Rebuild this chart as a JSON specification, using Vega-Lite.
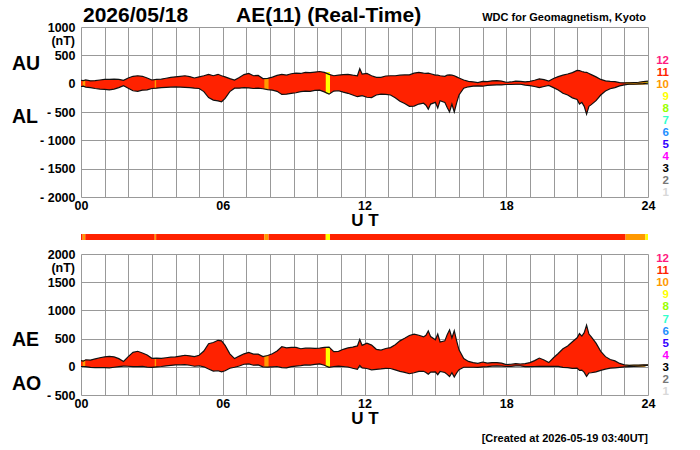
{
  "$schema": "https://vega.github.io/schema/vega-lite/v6.json",
  "background": "white",
  "padding": {"left": 12, "top": 5, "right": 5, "bottom": 5},
  "datasets": {
    "ae": [
      {"t": 0, "AU": 60, "AL": -50, "AE": 110, "AO": 5},
      {"t": 0.1, "AU": 55, "AL": -45, "AE": 100, "AO": 5},
      {"t": 0.2, "AU": 65, "AL": -60, "AE": 125, "AO": 3},
      {"t": 0.4, "AU": 50, "AL": -70, "AE": 120, "AO": -10},
      {"t": 0.6, "AU": 55, "AL": -85, "AE": 140, "AO": -15},
      {"t": 0.8, "AU": 65, "AL": -95, "AE": 160, "AO": -15},
      {"t": 1.0, "AU": 75, "AL": -100, "AE": 175, "AO": -13},
      {"t": 1.2, "AU": 75, "AL": -110, "AE": 185, "AO": -18},
      {"t": 1.4, "AU": 80, "AL": -95, "AE": 175, "AO": -8},
      {"t": 1.6, "AU": 75, "AL": -70, "AE": 145, "AO": 3},
      {"t": 1.8, "AU": 60, "AL": -35, "AE": 95, "AO": 13},
      {"t": 2.0, "AU": 100, "AL": -80, "AE": 180, "AO": 10},
      {"t": 2.2, "AU": 130, "AL": -125, "AE": 255, "AO": 3},
      {"t": 2.4, "AU": 140, "AL": -135, "AE": 275, "AO": 3},
      {"t": 2.6, "AU": 130, "AL": -115, "AE": 245, "AO": 8},
      {"t": 2.8, "AU": 100, "AL": -110, "AE": 210, "AO": -5},
      {"t": 3.0, "AU": 65, "AL": -85, "AE": 150, "AO": -10},
      {"t": 3.2, "AU": 75, "AL": -80, "AE": 155, "AO": -3},
      {"t": 3.4, "AU": 80, "AL": -70, "AE": 150, "AO": 5},
      {"t": 3.6, "AU": 95, "AL": -65, "AE": 160, "AO": 15},
      {"t": 3.8, "AU": 110, "AL": -60, "AE": 170, "AO": 25},
      {"t": 4.0, "AU": 120, "AL": -55, "AE": 175, "AO": 33},
      {"t": 4.2, "AU": 130, "AL": -60, "AE": 190, "AO": 35},
      {"t": 4.4, "AU": 140, "AL": -65, "AE": 205, "AO": 38},
      {"t": 4.6, "AU": 125, "AL": -70, "AE": 195, "AO": 28},
      {"t": 4.8, "AU": 100, "AL": -80, "AE": 180, "AO": 10},
      {"t": 5.0, "AU": 120, "AL": -85, "AE": 205, "AO": 18},
      {"t": 5.2, "AU": 140, "AL": -140, "AE": 280, "AO": 0},
      {"t": 5.4, "AU": 165, "AL": -245, "AE": 410, "AO": -40},
      {"t": 5.6, "AU": 140, "AL": -290, "AE": 430, "AO": -75},
      {"t": 5.8, "AU": 165, "AL": -305, "AE": 470, "AO": -70},
      {"t": 5.95, "AU": 140, "AL": -320, "AE": 460, "AO": -90},
      {"t": 6.1, "AU": 120, "AL": -260, "AE": 380, "AO": -70},
      {"t": 6.3, "AU": 90, "AL": -140, "AE": 230, "AO": -25},
      {"t": 6.5, "AU": 65, "AL": -80, "AE": 145, "AO": -8},
      {"t": 6.7, "AU": 110, "AL": -80, "AE": 190, "AO": 15},
      {"t": 6.9, "AU": 160, "AL": -70, "AE": 230, "AO": 45},
      {"t": 7.1, "AU": 180, "AL": -75, "AE": 255, "AO": 53},
      {"t": 7.3, "AU": 140, "AL": -85, "AE": 225, "AO": 28},
      {"t": 7.5, "AU": 145, "AL": -80, "AE": 225, "AO": 33},
      {"t": 7.7, "AU": 90, "AL": -90, "AE": 180, "AO": 0},
      {"t": 7.9, "AU": 95, "AL": -105, "AE": 200, "AO": -5},
      {"t": 8.1, "AU": 115, "AL": -115, "AE": 230, "AO": 0},
      {"t": 8.3, "AU": 145, "AL": -135, "AE": 280, "AO": 5},
      {"t": 8.5, "AU": 165, "AL": -190, "AE": 355, "AO": -13},
      {"t": 8.7, "AU": 150, "AL": -185, "AE": 335, "AO": -18},
      {"t": 8.9, "AU": 175, "AL": -170, "AE": 345, "AO": 3},
      {"t": 9.1, "AU": 185, "AL": -160, "AE": 345, "AO": 13},
      {"t": 9.3, "AU": 180, "AL": -140, "AE": 320, "AO": 20},
      {"t": 9.5, "AU": 200, "AL": -130, "AE": 330, "AO": 35},
      {"t": 9.7, "AU": 195, "AL": -135, "AE": 330, "AO": 30},
      {"t": 9.9, "AU": 205, "AL": -120, "AE": 325, "AO": 43},
      {"t": 10.1, "AU": 215, "AL": -115, "AE": 330, "AO": 50},
      {"t": 10.3, "AU": 200, "AL": -145, "AE": 345, "AO": 28},
      {"t": 10.5, "AU": 165, "AL": -185, "AE": 350, "AO": -10},
      {"t": 10.7, "AU": 140, "AL": -130, "AE": 270, "AO": 5},
      {"t": 10.9, "AU": 150, "AL": -125, "AE": 275, "AO": 13},
      {"t": 11.1, "AU": 160, "AL": -150, "AE": 310, "AO": 5},
      {"t": 11.3, "AU": 165, "AL": -170, "AE": 335, "AO": -3},
      {"t": 11.5, "AU": 150, "AL": -200, "AE": 350, "AO": -25},
      {"t": 11.7, "AU": 140, "AL": -230, "AE": 370, "AO": -45},
      {"t": 11.8, "AU": 265, "AL": -220, "AE": 485, "AO": 23},
      {"t": 11.9, "AU": 170, "AL": -210, "AE": 380, "AO": -20},
      {"t": 12.1, "AU": 180, "AL": -240, "AE": 420, "AO": -30},
      {"t": 12.3, "AU": 140, "AL": -245, "AE": 385, "AO": -53},
      {"t": 12.5, "AU": 110, "AL": -200, "AE": 310, "AO": -45},
      {"t": 12.7, "AU": 110, "AL": -185, "AE": 295, "AO": -38},
      {"t": 12.9, "AU": 135, "AL": -190, "AE": 325, "AO": -28},
      {"t": 13.1, "AU": 140, "AL": -200, "AE": 340, "AO": -30},
      {"t": 13.3, "AU": 140, "AL": -250, "AE": 390, "AO": -55},
      {"t": 13.5, "AU": 150, "AL": -310, "AE": 460, "AO": -80},
      {"t": 13.7, "AU": 155, "AL": -350, "AE": 505, "AO": -98},
      {"t": 13.9, "AU": 155, "AL": -400, "AE": 555, "AO": -123},
      {"t": 14.1, "AU": 185, "AL": -395, "AE": 580, "AO": -105},
      {"t": 14.3, "AU": 200, "AL": -360, "AE": 560, "AO": -80},
      {"t": 14.5, "AU": 185, "AL": -345, "AE": 530, "AO": -80},
      {"t": 14.6, "AU": 180, "AL": -380, "AE": 560, "AO": -100},
      {"t": 14.7, "AU": 185, "AL": -450, "AE": 635, "AO": -133},
      {"t": 14.8, "AU": 175, "AL": -360, "AE": 535, "AO": -93},
      {"t": 15.0, "AU": 150, "AL": -330, "AE": 480, "AO": -90},
      {"t": 15.1, "AU": 150, "AL": -430, "AE": 580, "AO": -140},
      {"t": 15.2, "AU": 140, "AL": -300, "AE": 440, "AO": -80},
      {"t": 15.4, "AU": 130, "AL": -330, "AE": 460, "AO": -100},
      {"t": 15.5, "AU": 150, "AL": -420, "AE": 570, "AO": -135},
      {"t": 15.6, "AU": 155, "AL": -500, "AE": 655, "AO": -173},
      {"t": 15.7, "AU": 150, "AL": -360, "AE": 510, "AO": -105},
      {"t": 15.8, "AU": 140, "AL": -500, "AE": 640, "AO": -180},
      {"t": 15.9, "AU": 120, "AL": -340, "AE": 460, "AO": -110},
      {"t": 16.0, "AU": 100, "AL": -200, "AE": 300, "AO": -50},
      {"t": 16.2, "AU": 65, "AL": -80, "AE": 145, "AO": -8},
      {"t": 16.4, "AU": 40, "AL": -55, "AE": 95, "AO": -8},
      {"t": 16.6, "AU": 30, "AL": -45, "AE": 75, "AO": -8},
      {"t": 16.8, "AU": 20, "AL": -40, "AE": 60, "AO": -10},
      {"t": 17.0, "AU": 40, "AL": -45, "AE": 85, "AO": -3},
      {"t": 17.2, "AU": 35, "AL": -30, "AE": 65, "AO": 3},
      {"t": 17.4, "AU": 50, "AL": -25, "AE": 75, "AO": 13},
      {"t": 17.6, "AU": 55, "AL": -20, "AE": 75, "AO": 18},
      {"t": 17.8, "AU": 45, "AL": -20, "AE": 65, "AO": 13},
      {"t": 18.0, "AU": 25, "AL": -15, "AE": 40, "AO": 5},
      {"t": 18.2, "AU": 30, "AL": -15, "AE": 45, "AO": 8},
      {"t": 18.4, "AU": 45, "AL": -10, "AE": 55, "AO": 18},
      {"t": 18.6, "AU": 40, "AL": -10, "AE": 50, "AO": 15},
      {"t": 18.8, "AU": 30, "AL": -25, "AE": 55, "AO": 3},
      {"t": 19.0, "AU": 40, "AL": -35, "AE": 75, "AO": 3},
      {"t": 19.2, "AU": 60, "AL": -50, "AE": 110, "AO": 5},
      {"t": 19.4, "AU": 85, "AL": -70, "AE": 155, "AO": 8},
      {"t": 19.6, "AU": 70, "AL": -50, "AE": 120, "AO": 10},
      {"t": 19.8, "AU": 45, "AL": -30, "AE": 75, "AO": 8},
      {"t": 20.0, "AU": 90, "AL": -70, "AE": 160, "AO": 10},
      {"t": 20.2, "AU": 125, "AL": -110, "AE": 235, "AO": 8},
      {"t": 20.4, "AU": 150, "AL": -170, "AE": 320, "AO": -10},
      {"t": 20.6, "AU": 170, "AL": -200, "AE": 370, "AO": -15},
      {"t": 20.8, "AU": 195, "AL": -250, "AE": 445, "AO": -28},
      {"t": 21.0, "AU": 235, "AL": -280, "AE": 515, "AO": -23},
      {"t": 21.1, "AU": 230, "AL": -360, "AE": 590, "AO": -65},
      {"t": 21.2, "AU": 215, "AL": -330, "AE": 545, "AO": -58},
      {"t": 21.3, "AU": 205, "AL": -400, "AE": 605, "AO": -98},
      {"t": 21.4, "AU": 200, "AL": -540, "AE": 740, "AO": -170},
      {"t": 21.5, "AU": 180, "AL": -400, "AE": 580, "AO": -110},
      {"t": 21.6, "AU": 160, "AL": -370, "AE": 530, "AO": -105},
      {"t": 21.8, "AU": 120, "AL": -300, "AE": 420, "AO": -90},
      {"t": 22.0, "AU": 75, "AL": -200, "AE": 275, "AO": -63},
      {"t": 22.2, "AU": 50, "AL": -130, "AE": 180, "AO": -40},
      {"t": 22.4, "AU": 40, "AL": -90, "AE": 130, "AO": -25},
      {"t": 22.6, "AU": 35, "AL": -70, "AE": 105, "AO": -18},
      {"t": 22.8, "AU": 20, "AL": -40, "AE": 60, "AO": -10},
      {"t": 23.0, "AU": 15, "AL": -20, "AE": 35, "AO": -3},
      {"t": 23.2, "AU": 15, "AL": -10, "AE": 25, "AO": 3},
      {"t": 23.4, "AU": 20, "AL": -10, "AE": 30, "AO": 5},
      {"t": 23.6, "AU": 25, "AL": -5, "AE": 30, "AO": 10},
      {"t": 23.8, "AU": 35, "AL": 0, "AE": 35, "AO": 18},
      {"t": 24.0, "AU": 45, "AL": 10, "AE": 35, "AO": 28}
    ],
    "stations": [
      {"from": 0, "to": 0.07, "n": 11},
      {"from": 0.07, "to": 0.18, "n": 10, "AU": 65, "AL": -55, "AE": 120, "AO": 0},
      {"from": 0.18, "to": 3.12, "n": 11},
      {"from": 3.12, "to": 3.18, "n": 10, "AU": 70, "AL": -82, "AE": 152, "AO": -8},
      {"from": 3.18, "to": 7.76, "n": 11},
      {"from": 7.76, "to": 7.94, "n": 10, "AU": 95, "AL": -100, "AE": 195, "AO": -5},
      {"from": 7.94, "to": 10.36, "n": 11},
      {"from": 10.36, "to": 10.54, "n": 9, "AU": 205, "AL": -180, "AE": 345, "AO": 0},
      {"from": 10.54, "to": 23.05, "n": 11},
      {"from": 23.05, "to": 23.89, "n": 10, "AU": 30, "AL": -15, "AE": 35, "AO": 0},
      {"from": 23.89, "to": 24, "n": 9, "AU": 45, "AL": 5, "AE": 35, "AO": 20}
    ],
    "counts": [
      {"n": 12}, {"n": 11}, {"n": 10}, {"n": 9}, {"n": 8}, {"n": 7},
      {"n": 6}, {"n": 5}, {"n": 4}, {"n": 3}, {"n": 2}, {"n": 1}
    ]
  },
  "spacing": 57,
  "bounds": "flush",
  "vconcat": [
    {
      "width": 567,
      "height": 170,
      "layer": [
        {
          "layer": [
            {
              "data": {"name": "ae"},
              "mark": {"type": "area", "color": "#ff2200", "opacity": 1},
              "encoding": {
                "x": {"field": "t", "type": "quantitative", "title": "U T", "scale": {"domain": [0, 24], "nice": false, "zero": false},
                  "axis": {"values": [0,1,2,3,4,5,6,7,8,9,10,11,12,13,14,15,16,17,18,19,20,21,22,23,24], "labelExpr": "datum.value % 6 === 0 ? (datum.value < 10 ? '0' + datum.value : '' + datum.value) : ''"}},
                "y": {"field": "AU", "type": "quantitative", "title": null, "scale": {"domain": [-2000, 1000], "nice": false, "zero": false},
                  "axis": {"values": [-2000, -1500, -1000, -500, 0, 500, 1000], "labelExpr": "datum.value < 0 ? '- ' + abs(datum.value) : '' + datum.value"}},
                "y2": {"field": "AL"}
              }
            },
            {
              "data": {"name": "stations"},
              "transform": [{"filter": "datum.n != 11"}],
              "mark": {"type": "rect"},
              "encoding": {
                "x": {"field": "from", "type": "quantitative", "title": "U T",
                  "axis": {"values": [0,1,2,3,4,5,6,7,8,9,10,11,12,13,14,15,16,17,18,19,20,21,22,23,24], "labelExpr": "datum.value % 6 === 0 ? (datum.value < 10 ? '0' + datum.value : '' + datum.value) : ''"}},
                "x2": {"field": "to"},
                "y": {"field": "AL", "type": "quantitative", "title": null,
                  "axis": {"values": [-2000, -1500, -1000, -500, 0, 500, 1000], "labelExpr": "datum.value < 0 ? '- ' + abs(datum.value) : '' + datum.value"}},
                "y2": {"field": "AU"},
                "color": {"field": "n", "type": "ordinal", "legend": null,
                  "scale": {"domain": [1,2,3,4,5,6,7,8,9,10,11,12], "range": ["#d8d8d8","#777777","#000000","#ff00ff","#3300ff","#1e90ff","#33ffcc","#99ff00","#ffff00","#ff9900","#ff2200","#ff1a80"]}}
              }
            },
            {
              "data": {"name": "ae"},
              "mark": {"type": "line", "color": "#111", "strokeWidth": 1.2},
              "encoding": {
                "x": {"field": "t", "type": "quantitative", "title": "U T",
                  "axis": {"values": [0,1,2,3,4,5,6,7,8,9,10,11,12,13,14,15,16,17,18,19,20,21,22,23,24], "labelExpr": "datum.value % 6 === 0 ? (datum.value < 10 ? '0' + datum.value : '' + datum.value) : ''"}},
                "y": {"field": "AU", "type": "quantitative", "title": null,
                  "axis": {"values": [-2000, -1500, -1000, -500, 0, 500, 1000], "labelExpr": "datum.value < 0 ? '- ' + abs(datum.value) : '' + datum.value"}}
              }
            },
            {
              "data": {"name": "ae"},
              "mark": {"type": "line", "color": "#111", "strokeWidth": 1.2},
              "encoding": {
                "x": {"field": "t", "type": "quantitative", "title": "U T",
                  "axis": {"values": [0,1,2,3,4,5,6,7,8,9,10,11,12,13,14,15,16,17,18,19,20,21,22,23,24], "labelExpr": "datum.value % 6 === 0 ? (datum.value < 10 ? '0' + datum.value : '' + datum.value) : ''"}},
                "y": {"field": "AL", "type": "quantitative", "title": null,
                  "axis": {"values": [-2000, -1500, -1000, -500, 0, 500, 1000], "labelExpr": "datum.value < 0 ? '- ' + abs(datum.value) : '' + datum.value"}}
              }
            },
            {
              "data": {"values": [{}]},
              "mark": {"type": "text", "text": "2026/05/18", "fontSize": 21, "fontWeight": "bold", "align": "left", "baseline": "alphabetic", "dx": 2, "dy": -5},
              "encoding": {
                "x": {"datum": 0, "type": "quantitative", "title": "U T",
                  "axis": {"values": [0,1,2,3,4,5,6,7,8,9,10,11,12,13,14,15,16,17,18,19,20,21,22,23,24], "labelExpr": "datum.value % 6 === 0 ? (datum.value < 10 ? '0' + datum.value : '' + datum.value) : ''"}},
                "y": {"datum": 1000, "type": "quantitative", "title": null,
                  "axis": {"values": [-2000, -1500, -1000, -500, 0, 500, 1000], "labelExpr": "datum.value < 0 ? '- ' + abs(datum.value) : '' + datum.value"}}
              }
            },
            {
              "data": {"values": [{}]},
              "mark": {"type": "text", "text": "AE(11) (Real-Time)", "fontSize": 21, "fontWeight": "bold", "align": "left", "baseline": "alphabetic", "dx": 155, "dy": -5},
              "encoding": {
                "x": {"datum": 0, "type": "quantitative", "title": "U T",
                  "axis": {"values": [0,1,2,3,4,5,6,7,8,9,10,11,12,13,14,15,16,17,18,19,20,21,22,23,24], "labelExpr": "datum.value % 6 === 0 ? (datum.value < 10 ? '0' + datum.value : '' + datum.value) : ''"}},
                "y": {"datum": 1000, "type": "quantitative", "title": null,
                  "axis": {"values": [-2000, -1500, -1000, -500, 0, 500, 1000], "labelExpr": "datum.value < 0 ? '- ' + abs(datum.value) : '' + datum.value"}}
              }
            },
            {
              "data": {"values": [{}]},
              "mark": {"type": "text", "text": "WDC for Geomagnetism, Kyoto", "fontSize": 11, "fontWeight": "bold", "align": "right", "baseline": "alphabetic", "dx": -2, "dy": -6},
              "encoding": {
                "x": {"datum": 24, "type": "quantitative", "title": "U T",
                  "axis": {"values": [0,1,2,3,4,5,6,7,8,9,10,11,12,13,14,15,16,17,18,19,20,21,22,23,24], "labelExpr": "datum.value % 6 === 0 ? (datum.value < 10 ? '0' + datum.value : '' + datum.value) : ''"}},
                "y": {"datum": 1000, "type": "quantitative", "title": null,
                  "axis": {"values": [-2000, -1500, -1000, -500, 0, 500, 1000], "labelExpr": "datum.value < 0 ? '- ' + abs(datum.value) : '' + datum.value"}}
              }
            },
            {
              "data": {"values": [{}]},
              "mark": {"type": "text", "text": "(nT)", "fontSize": 12.5, "fontWeight": "bold", "align": "right", "baseline": "middle", "dx": -6, "dy": 13.5},
              "encoding": {
                "x": {"datum": 0, "type": "quantitative", "title": "U T",
                  "axis": {"values": [0,1,2,3,4,5,6,7,8,9,10,11,12,13,14,15,16,17,18,19,20,21,22,23,24], "labelExpr": "datum.value % 6 === 0 ? (datum.value < 10 ? '0' + datum.value : '' + datum.value) : ''"}},
                "y": {"datum": 1000, "type": "quantitative", "title": null,
                  "axis": {"values": [-2000, -1500, -1000, -500, 0, 500, 1000], "labelExpr": "datum.value < 0 ? '- ' + abs(datum.value) : '' + datum.value"}}
              }
            },
            {
              "data": {"values": [{}]},
              "mark": {"type": "text", "text": "AU", "fontSize": 19.5, "fontWeight": "bold", "align": "left", "baseline": "alphabetic", "dx": -69},
              "encoding": {
                "x": {"datum": 0, "type": "quantitative", "title": "U T",
                  "axis": {"values": [0,1,2,3,4,5,6,7,8,9,10,11,12,13,14,15,16,17,18,19,20,21,22,23,24], "labelExpr": "datum.value % 6 === 0 ? (datum.value < 10 ? '0' + datum.value : '' + datum.value) : ''"}},
                "y": {"datum": 240, "type": "quantitative", "title": null,
                  "axis": {"values": [-2000, -1500, -1000, -500, 0, 500, 1000], "labelExpr": "datum.value < 0 ? '- ' + abs(datum.value) : '' + datum.value"}}
              }
            },
            {
              "data": {"values": [{}]},
              "mark": {"type": "text", "text": "AL", "fontSize": 19.5, "fontWeight": "bold", "align": "left", "baseline": "alphabetic", "dx": -69},
              "encoding": {
                "x": {"datum": 0, "type": "quantitative", "title": "U T",
                  "axis": {"values": [0,1,2,3,4,5,6,7,8,9,10,11,12,13,14,15,16,17,18,19,20,21,22,23,24], "labelExpr": "datum.value % 6 === 0 ? (datum.value < 10 ? '0' + datum.value : '' + datum.value) : ''"}},
                "y": {"datum": -690, "type": "quantitative", "title": null,
                  "axis": {"values": [-2000, -1500, -1000, -500, 0, 500, 1000], "labelExpr": "datum.value < 0 ? '- ' + abs(datum.value) : '' + datum.value"}}
              }
            }
          ]
        },
        {
          "data": {"name": "counts"},
          "mark": {"type": "text", "fontSize": 11.5, "fontWeight": "bold", "align": "right", "baseline": "middle", "dx": 21},
          "encoding": {
            "x": {"datum": 24, "type": "quantitative", "title": "U T",
              "axis": {"values": [0,1,2,3,4,5,6,7,8,9,10,11,12,13,14,15,16,17,18,19,20,21,22,23,24], "labelExpr": "datum.value % 6 === 0 ? (datum.value < 10 ? '0' + datum.value : '' + datum.value) : ''"}},
            "y": {"field": "n", "type": "quantitative", "axis": null, "scale": {"domain": [0.69, 14.83], "nice": false, "zero": false}},
            "text": {"field": "n", "type": "nominal"},
            "color": {"field": "n", "type": "ordinal", "legend": null,
              "scale": {"domain": [1,2,3,4,5,6,7,8,9,10,11,12], "range": ["#d8d8d8","#777777","#000000","#ff00ff","#3300ff","#1e90ff","#33ffcc","#99ff00","#ffff00","#ff9900","#ff2200","#ff1a80"]}}
          }
        }
      ],
      "resolve": {"scale": {"y": "independent"}}
    },
    {
      "width": 567,
      "height": 141,
      "layer": [
        {
          "layer": [
            {
              "data": {"name": "ae"},
              "mark": {"type": "area", "color": "#ff2200", "opacity": 1},
              "encoding": {
                "x": {"field": "t", "type": "quantitative", "title": "U T", "scale": {"domain": [0, 24], "nice": false, "zero": false},
                  "axis": {"values": [0,1,2,3,4,5,6,7,8,9,10,11,12,13,14,15,16,17,18,19,20,21,22,23,24], "labelExpr": "datum.value % 6 === 0 ? (datum.value < 10 ? '0' + datum.value : '' + datum.value) : ''"}},
                "y": {"field": "AE", "type": "quantitative", "title": null, "scale": {"domain": [-500, 2000], "nice": false, "zero": false},
                  "axis": {"values": [-500, 0, 500, 1000, 1500, 2000], "labelExpr": "datum.value < 0 ? '- ' + abs(datum.value) : '' + datum.value"}},
                "y2": {"field": "AO"}
              }
            },
            {
              "data": {"name": "stations"},
              "transform": [{"filter": "datum.n != 11"}],
              "mark": {"type": "rect"},
              "encoding": {
                "x": {"field": "from", "type": "quantitative", "title": "U T",
                  "axis": {"values": [0,1,2,3,4,5,6,7,8,9,10,11,12,13,14,15,16,17,18,19,20,21,22,23,24], "labelExpr": "datum.value % 6 === 0 ? (datum.value < 10 ? '0' + datum.value : '' + datum.value) : ''"}},
                "x2": {"field": "to"},
                "y": {"field": "AO", "type": "quantitative", "title": null,
                  "axis": {"values": [-500, 0, 500, 1000, 1500, 2000], "labelExpr": "datum.value < 0 ? '- ' + abs(datum.value) : '' + datum.value"}},
                "y2": {"field": "AE"},
                "color": {"field": "n", "type": "ordinal", "legend": null,
                  "scale": {"domain": [1,2,3,4,5,6,7,8,9,10,11,12], "range": ["#d8d8d8","#777777","#000000","#ff00ff","#3300ff","#1e90ff","#33ffcc","#99ff00","#ffff00","#ff9900","#ff2200","#ff1a80"]}}
              }
            },
            {
              "data": {"name": "stations"},
              "mark": {"type": "rect"},
              "encoding": {
                "x": {"field": "from", "type": "quantitative", "title": "U T",
                  "axis": {"values": [0,1,2,3,4,5,6,7,8,9,10,11,12,13,14,15,16,17,18,19,20,21,22,23,24], "labelExpr": "datum.value % 6 === 0 ? (datum.value < 10 ? '0' + datum.value : '' + datum.value) : ''"}},
                "x2": {"field": "to"},
                "y": {"datum": 2248, "type": "quantitative", "title": null, "scale": {"domain": [-500, 2000], "nice": false, "zero": false},
                  "axis": {"values": [-500, 0, 500, 1000, 1500, 2000], "labelExpr": "datum.value < 0 ? '- ' + abs(datum.value) : '' + datum.value"}},
                "y2": {"datum": 2355},
                "color": {"field": "n", "type": "ordinal", "legend": null,
                  "scale": {"domain": [1,2,3,4,5,6,7,8,9,10,11,12], "range": ["#d8d8d8","#777777","#000000","#ff00ff","#3300ff","#1e90ff","#33ffcc","#99ff00","#ffff00","#ff9900","#ff2200","#ff1a80"]}}
              }
            },
            {
              "data": {"name": "ae"},
              "mark": {"type": "line", "color": "#111", "strokeWidth": 1.2},
              "encoding": {
                "x": {"field": "t", "type": "quantitative", "title": "U T",
                  "axis": {"values": [0,1,2,3,4,5,6,7,8,9,10,11,12,13,14,15,16,17,18,19,20,21,22,23,24], "labelExpr": "datum.value % 6 === 0 ? (datum.value < 10 ? '0' + datum.value : '' + datum.value) : ''"}},
                "y": {"field": "AE", "type": "quantitative", "title": null,
                  "axis": {"values": [-500, 0, 500, 1000, 1500, 2000], "labelExpr": "datum.value < 0 ? '- ' + abs(datum.value) : '' + datum.value"}}
              }
            },
            {
              "data": {"name": "ae"},
              "mark": {"type": "line", "color": "#111", "strokeWidth": 1.2},
              "encoding": {
                "x": {"field": "t", "type": "quantitative", "title": "U T",
                  "axis": {"values": [0,1,2,3,4,5,6,7,8,9,10,11,12,13,14,15,16,17,18,19,20,21,22,23,24], "labelExpr": "datum.value % 6 === 0 ? (datum.value < 10 ? '0' + datum.value : '' + datum.value) : ''"}},
                "y": {"field": "AO", "type": "quantitative", "title": null,
                  "axis": {"values": [-500, 0, 500, 1000, 1500, 2000], "labelExpr": "datum.value < 0 ? '- ' + abs(datum.value) : '' + datum.value"}}
              }
            },
            {
              "data": {"values": [{}]},
              "mark": {"type": "text", "text": "(nT)", "fontSize": 12.5, "fontWeight": "bold", "align": "right", "baseline": "middle", "dx": -6, "dy": 13.5},
              "encoding": {
                "x": {"datum": 0, "type": "quantitative", "title": "U T",
                  "axis": {"values": [0,1,2,3,4,5,6,7,8,9,10,11,12,13,14,15,16,17,18,19,20,21,22,23,24], "labelExpr": "datum.value % 6 === 0 ? (datum.value < 10 ? '0' + datum.value : '' + datum.value) : ''"}},
                "y": {"datum": 2000, "type": "quantitative", "title": null,
                  "axis": {"values": [-500, 0, 500, 1000, 1500, 2000], "labelExpr": "datum.value < 0 ? '- ' + abs(datum.value) : '' + datum.value"}}
              }
            },
            {
              "data": {"values": [{}]},
              "mark": {"type": "text", "text": "AE", "fontSize": 19.5, "fontWeight": "bold", "align": "left", "baseline": "alphabetic", "dx": -69},
              "encoding": {
                "x": {"datum": 0, "type": "quantitative", "title": "U T",
                  "axis": {"values": [0,1,2,3,4,5,6,7,8,9,10,11,12,13,14,15,16,17,18,19,20,21,22,23,24], "labelExpr": "datum.value % 6 === 0 ? (datum.value < 10 ? '0' + datum.value : '' + datum.value) : ''"}},
                "y": {"datum": 367, "type": "quantitative", "title": null,
                  "axis": {"values": [-500, 0, 500, 1000, 1500, 2000], "labelExpr": "datum.value < 0 ? '- ' + abs(datum.value) : '' + datum.value"}}
              }
            },
            {
              "data": {"values": [{}]},
              "mark": {"type": "text", "text": "AO", "fontSize": 19.5, "fontWeight": "bold", "align": "left", "baseline": "alphabetic", "dx": -69},
              "encoding": {
                "x": {"datum": 0, "type": "quantitative", "title": "U T",
                  "axis": {"values": [0,1,2,3,4,5,6,7,8,9,10,11,12,13,14,15,16,17,18,19,20,21,22,23,24], "labelExpr": "datum.value % 6 === 0 ? (datum.value < 10 ? '0' + datum.value : '' + datum.value) : ''"}},
                "y": {"datum": -413, "type": "quantitative", "title": null,
                  "axis": {"values": [-500, 0, 500, 1000, 1500, 2000], "labelExpr": "datum.value < 0 ? '- ' + abs(datum.value) : '' + datum.value"}}
              }
            },
            {
              "data": {"values": [{}]},
              "mark": {"type": "text", "text": "[Created at 2026-05-19 03:40UT]", "fontSize": 11, "fontWeight": "bold", "align": "right", "baseline": "alphabetic", "dy": 47},
              "encoding": {
                "x": {"datum": 24, "type": "quantitative", "title": "U T",
                  "axis": {"values": [0,1,2,3,4,5,6,7,8,9,10,11,12,13,14,15,16,17,18,19,20,21,22,23,24], "labelExpr": "datum.value % 6 === 0 ? (datum.value < 10 ? '0' + datum.value : '' + datum.value) : ''"}},
                "y": {"datum": -500, "type": "quantitative", "title": null,
                  "axis": {"values": [-500, 0, 500, 1000, 1500, 2000], "labelExpr": "datum.value < 0 ? '- ' + abs(datum.value) : '' + datum.value"}}
              }
            }
          ]
        },
        {
          "data": {"name": "counts"},
          "mark": {"type": "text", "fontSize": 11.5, "fontWeight": "bold", "align": "right", "baseline": "middle", "dx": 21},
          "encoding": {
            "x": {"datum": 24, "type": "quantitative", "title": "U T",
              "axis": {"values": [0,1,2,3,4,5,6,7,8,9,10,11,12,13,14,15,16,17,18,19,20,21,22,23,24], "labelExpr": "datum.value % 6 === 0 ? (datum.value < 10 ? '0' + datum.value : '' + datum.value) : ''"}},
            "y": {"field": "n", "type": "quantitative", "axis": null, "scale": {"domain": [0.78, 12.41], "nice": false, "zero": false}},
            "text": {"field": "n", "type": "nominal"},
            "color": {"field": "n", "type": "ordinal", "legend": null,
              "scale": {"domain": [1,2,3,4,5,6,7,8,9,10,11,12], "range": ["#d8d8d8","#777777","#000000","#ff00ff","#3300ff","#1e90ff","#33ffcc","#99ff00","#ffff00","#ff9900","#ff2200","#ff1a80"]}}
          }
        }
      ],
      "resolve": {"scale": {"y": "independent"}}
    }
  ],
  "config": {
    "font": "Liberation Sans",
    "view": {"stroke": null},
    "axis": {
      "labelFont": "Liberation Sans",
      "labelFontWeight": "bold",
      "labelFontSize": 12.5,
      "labelColor": "#000",
      "labelOverlap": false,
      "labelFlush": false,
      "labelBound": false,
      "ticks": false,
      "domain": false,
      "gridColor": "#999",
      "gridOpacity": 1,
      "gridWidth": 1,
      "titleFont": "Liberation Sans",
      "titleFontWeight": "bold",
      "titleFontSize": 17,
      "titleColor": "#000"
    },
    "axisX": {"labelPadding": 2, "titlePadding": 1},
    "axisY": {"labelPadding": 6},
    "text": {"font": "Liberation Sans"}
  }
}
